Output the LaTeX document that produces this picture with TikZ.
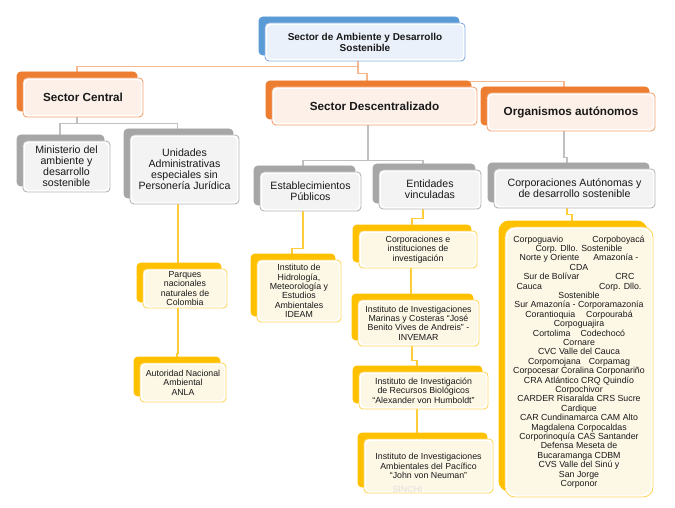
\documentclass[tikz,border=0pt]{standalone}
\usepackage{fontspec}
\setmainfont{Liberation Sans}
\usetikzlibrary{backgrounds}

\definecolor{blueback}{HTML}{5B9BD5}
\definecolor{blueline}{HTML}{86AEE2}
\definecolor{bluetint}{HTML}{EAF1FA}
\definecolor{orangeback}{HTML}{ED7D31}
\definecolor{orangeline}{HTML}{F2A26C}
\definecolor{orangetint}{HTML}{FCF0E8}
\definecolor{grayback}{HTML}{A6A6A6}
\definecolor{grayline}{HTML}{B4B4B4}
\definecolor{graytint}{HTML}{F3F3F3}
\definecolor{yellowback}{HTML}{FFC000}
\definecolor{yellowline}{HTML}{FFD65C}
\definecolor{yellowtint}{HTML}{FDF7E6}
\definecolor{toplink}{HTML}{F5B88F}
\definecolor{graylink}{HTML}{C0C0C0}
\definecolor{yellowlink}{HTML}{FFCD3A}

\tikzset{
	orgbox/.style n args={3}{draw=#2, fill=white, line width=0.9pt,
		rounded corners=4pt, inner sep=0pt, align=center, text=black!90,
		preaction={draw=#1, fill=#1, path picture={},
			transform canvas={xshift=-6pt, yshift=6pt}},
		path picture={\fill[#3] ([shift={(2pt,-2pt)}]path picture bounding box.north west)
			rectangle ([shift={(-2pt,2pt)}]path picture bounding box.south east);}},
	bluebox/.style={orgbox={blueback}{blueline}{bluetint}},
	orangebox/.style={orgbox={orangeback}{orangeline}{orangetint}},
	graybox/.style={orgbox={grayback}{grayline}{graytint}},
	yellowbox/.style={orgbox={yellowback}{yellowline}{yellowtint}},
	titletext/.style={font=\fontsize{10}{11}\selectfont\bfseries},
	headtext/.style={font=\fontsize{11.7}{13}\selectfont\bfseries},
	midtext/.style={font=\fontsize{10.6}{11}\selectfont},
	smalltext/.style={font=\fontsize{8.8}{9.4}\selectfont},
	link/.style={line width=1.2pt}
}

\begin{document}
\begin{tikzpicture}[x=1pt, y=-1pt]
	\useasboundingbox (0,0) rectangle (675,508);
	% head
	\node[bluebox, titletext, minimum width=200pt, minimum height=38pt] (sector) at (365,42) {Sector de Ambiente y Desarrollo\\Sostenible};
	% sectors
	\node[orangebox, headtext, minimum width=120pt, minimum height=39pt] (central) at (83,97.5) {Sector Central};
	\node[orangebox, headtext, minimum width=205pt, minimum height=38pt] (descent) at (374.5,106) {Sector Descentralizado};
	\node[orangebox, headtext, minimum width=168pt, minimum height=38pt] (autonom) at (571,112) {Organismos autónomos};
	% second level
	\node[graybox, midtext, minimum width=87pt, minimum height=51pt] (minist) at (66.5,166.5) {Ministerio del\\ambiente y\\desarrollo\\sostenible};
	\node[graybox, midtext, minimum width=109pt, minimum height=69pt] (unidades) at (184.5,169.5) {Unidades\\Administrativas\\especiales sin\\Personería Jurídica};
	\node[graybox, midtext, minimum width=101pt, minimum height=39pt] (estab) at (310.5,191.5) {Establecimientos\\Públicos};
	\node[graybox, midtext, minimum width=102pt, minimum height=39pt] (entid) at (430,189.5) {Entidades\\vinculadas};
	\node[graybox, midtext, minimum width=161pt, minimum height=39pt] (corpaut) at (574.5,188.5) {Corporaciones Autónomas y\\de desarrollo sostenible};
	% entities
	\node[yellowbox, smalltext, minimum width=84pt, minimum height=39pt] (parques) at (185,288.5) {Parques\\nacionales\\naturales de\\Colombia};
	\node[yellowbox, smalltext, minimum width=86pt, minimum height=39pt] (anla) at (183,382.5) {Autoridad Nacional\\Ambiental\\ANLA};
	\node[yellowbox, smalltext, minimum width=84pt, minimum height=62pt] (ideam) at (299,291) {Instituto de\\Hidrología,\\Meteorología y\\Estudios\\Ambientales\\IDEAM};
	\node[yellowbox, smalltext, minimum width=118pt, minimum height=37pt] (corpinv) at (418,249.5) {Corporaciones e\\instituciones de\\investigación};
	\node[yellowbox, smalltext, minimum width=121pt, minimum height=46pt] (invemar) at (418.5,323) {Instituto de Investigaciones\\Marinas y Costeras “José\\Benito Vives de Andreis” -\\INVEMAR};
	\node[yellowbox, smalltext, minimum width=129pt, minimum height=37pt] (humboldt) at (423.5,390.5) {Instituto de Investigación\\de Recursos Biológicos\\“Alexander von Humboldt”};
	\node[yellowbox, smalltext, minimum width=129pt, minimum height=54pt] (neuman) at (428.5,466) {Instituto de Investigaciones\\Ambientales del Pacífico\\“John von Neuman”};
	\node[smalltext, text=black!12] (sinchi) at (407.5,489.5) {SINCHI};
	\node[yellowbox, smalltext, rounded corners=10pt, minimum width=148pt, minimum height=270pt] (lista) at (579,362) {Corpoguavio\hspace{29pt}Corpoboyacá\\
		Corp. Dllo. Sostenible\\
		Norte y Oriente\hspace{14pt}Amazonía -\\
		CDA\\
		Sur de Bolívar\hspace{36pt}CRC\\
		Cauca\hspace{57pt}Corp. Dllo.\\
		Sostenible\\
		Sur Amazonía - Corporamazonía\\
		Corantioquia\hspace{11pt}Corpourabá\\
		Corpoguajira\\
		Cortolima\hspace{10pt}Codechocó\\
		Cornare\\
		CVC Valle del Cauca\\
		Corpomojana\hspace{8pt}Corpamag\\
		Corpocesar Coralina Corponariño\\
		CRA Atlántico CRQ Quindío\\
		Corpochivor\\
		CARDER Risaralda CRS Sucre\\
		Cardique\\
		CAR Cundinamarca CAM Alto\\
		Magdalena Corpocaldas\\
		Corporinoquía CAS Santander\\
		Defensa Meseta de\\
		Bucaramanga CDBM\\
		CVS Valle del Sinú y\\
		San Jorge\\
		Corponor};
	% connectors
	\begin{scope}[on background layer]
		\draw[link, toplink] ([xshift=-7pt]sector.south) -- ++(0,5) -| ([xshift=-6pt]central.north);
		\draw[link, toplink] ([xshift=-7pt]sector.south) -- ++(0,12) -| ([xshift=-7.5pt]descent.north);
		\draw[link, toplink] ([xshift=-7pt]sector.south) -- ++(0,12) -| ([xshift=-7.5pt, yshift=5pt]descent.north) -| ([xshift=-7pt]autonom.north);
		\draw[link, graylink] ([xshift=-6pt]central.south) -- ++(0,6) -| ([xshift=-6.5pt]minist.north);
		\draw[link, graylink] ([xshift=-6pt]central.south) -- ++(0,6) -| ([xshift=-7pt]unidades.north);
		\draw[link, graylink] ([xshift=-6.5pt]descent.south) -- ++(0,35) -| ([xshift=-7.5pt]estab.north);
		\draw[link, graylink] ([xshift=-6.5pt]descent.south) -- ++(0,35) -| ([xshift=-7pt]entid.north);
		\draw[link, graylink] ([xshift=-7pt]autonom.south) -- ++(0,26) -| ([xshift=-7.5pt]corpaut.north);
		\draw[link, yellowlink] ([xshift=-6.5pt]unidades.south) -- ++(0,50) -| ([xshift=-7pt]parques.north);
		\draw[link, yellowlink] ([xshift=-7pt]parques.south) -- ++(0,45) -| ([xshift=-6pt]anla.north);
		\draw[link, yellowlink] ([xshift=-7.5pt]estab.south) -- ++(0,37) -| ([xshift=-7pt]ideam.north);
		\draw[link, yellowlink] ([xshift=-7pt]entid.south) -- ++(0,9) -| ([xshift=-6pt]corpinv.north);
		\draw[link, yellowlink] ([xshift=-7pt]corpinv.south) -- ++(0,15) -| ([xshift=-7.5pt]invemar.north);
		\draw[link, yellowlink] ([xshift=-6.5pt]invemar.south) -- ++(0,14) -| ([xshift=-6.5pt]humboldt.north);
		\draw[link, yellowlink] ([xshift=-6.5pt]humboldt.south) -- ++(0,12) -| ([xshift=-11.5pt]neuman.north);
		\draw[link, yellowlink] ([xshift=-7.5pt]corpaut.south) -- ++(0,6) -| ([xshift=-7pt]lista.north);
	\end{scope}
\end{tikzpicture}
\end{document}
